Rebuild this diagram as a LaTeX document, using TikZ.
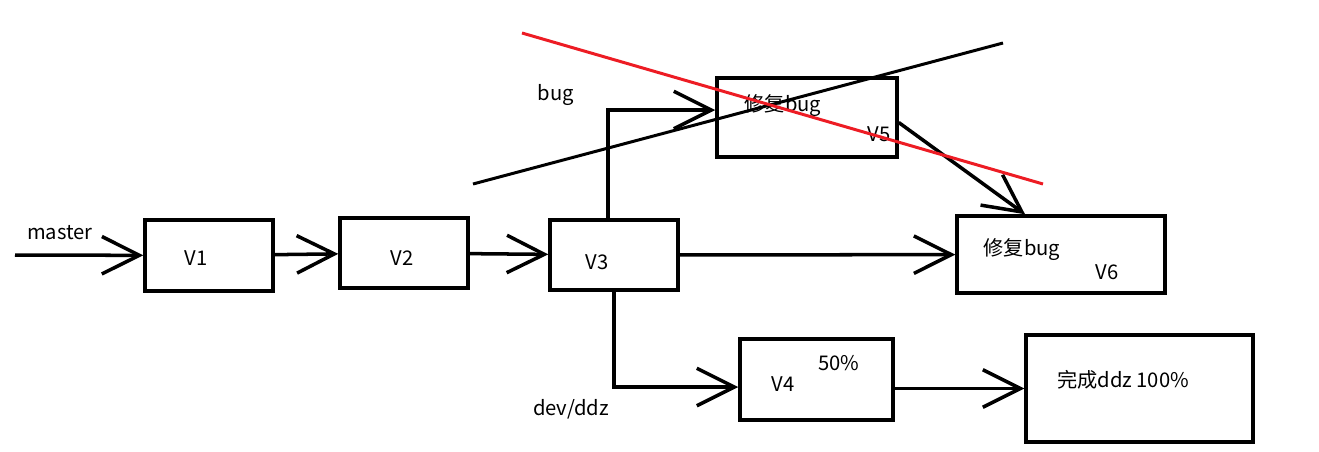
\documentclass[tikz,border=0pt]{standalone}
\usepackage{fontspec}
\setmainfont{Noto Sans CJK SC}
\usepackage{tikz}
\usetikzlibrary{arrows.meta, positioning, calc}
\definecolor{paintred}{RGB}{237,28,36}

\begin{document}
\begin{tikzpicture}[
  x=0.02cm, y=-0.02cm,
  verbox/.style={draw, rectangle, line width=2pt, inner sep=0pt},
  lbl/.style={font=\fontsize{11.5}{13}\selectfont, inner sep=1pt},
  flow/.style={-{Straight Barb[length=7.5mm, width=7.5mm]}, line width=2pt},
  strike/.style={line width=1.7pt}
]
\useasboundingbox (0,0) rectangle (1319,451);

% Main line
\coordinate     (Start) at (15,255);
\node           (Master) at (60,233)     [lbl] {master};
\node[verbox]   (V1)   at (209,255.5) [minimum width=2.56cm, minimum height=1.42cm] {};
\node[lbl]      (V1t)  at (196,258) {V1};
\node[verbox]   (V2)   at (404,253)   [minimum width=2.56cm, minimum height=1.40cm] {};
\node[lbl]      (V2t)  at (402,258) {V2};
\node[verbox]   (V3)   at (614,255)   [minimum width=2.56cm, minimum height=1.40cm] {};
\node[lbl]      (V3t)  at (597,262) {V3};

% bug branch
\node[lbl]      (Bug)  at (556,95) {bug};
\node[verbox]   (V5)   at (807,117.5) [minimum width=3.60cm, minimum height=1.58cm] {};
\node[lbl]      (V5fix) at (783,106) {修复bug};
\node[lbl]      (V5t)  at (879,134) {V5};
\node[verbox]   (V6)   at (1061,254.5) [minimum width=4.16cm, minimum height=1.54cm] {};
\node[lbl]      (V6fix) at (1022,250) {修复bug};
\node[lbl]      (V6t)  at (1107,272) {V6};

% dev branch
\node[lbl]      (Dev)  at (571,409) {dev/ddz};
\node[verbox]   (V4)   at (816.5,379.5) [minimum width=3.06cm, minimum height=1.62cm] {};
\node[lbl]      (V4t)  at (783,384) {V4};
\node[lbl]      (Half) at (839,363) {50\%};
\node[verbox]   (Done) at (1139.5,388.5) [minimum width=4.54cm, minimum height=2.14cm] {};
\node[lbl]      (Donet) at (1123,380) {完成ddz 100\%};

% Flows
\draw[flow] (Start) -- (V1);
\draw[flow] (V1) -- (V2);
\draw[flow] (V2) -- (V3);
\draw[flow] (V3) -- (V6);
\draw[flow] ([xshift=-0.12cm]V3.north) |- ([yshift=0.15cm]V5.west);
\draw[flow] ([yshift=-0.1cm]V5.east) -- ($(V6.north west)!0.33!(V6.north east)$);
\draw[flow] (V3.south) |- ([yshift=-0.15cm]V4.west);
\draw[flow] (V4.east |- Done.west) -- (Done.west);

% Crossed out
\coordinate (BlackA) at (473,184);
\coordinate (BlackB) at (1003,43);
\coordinate (RedA)   at (522,33);
\coordinate (RedB)   at (1043,184);
\draw[strike] (BlackA) -- (BlackB);
\draw[strike, paintred] (RedA) -- (RedB);

\end{tikzpicture}
\end{document}
